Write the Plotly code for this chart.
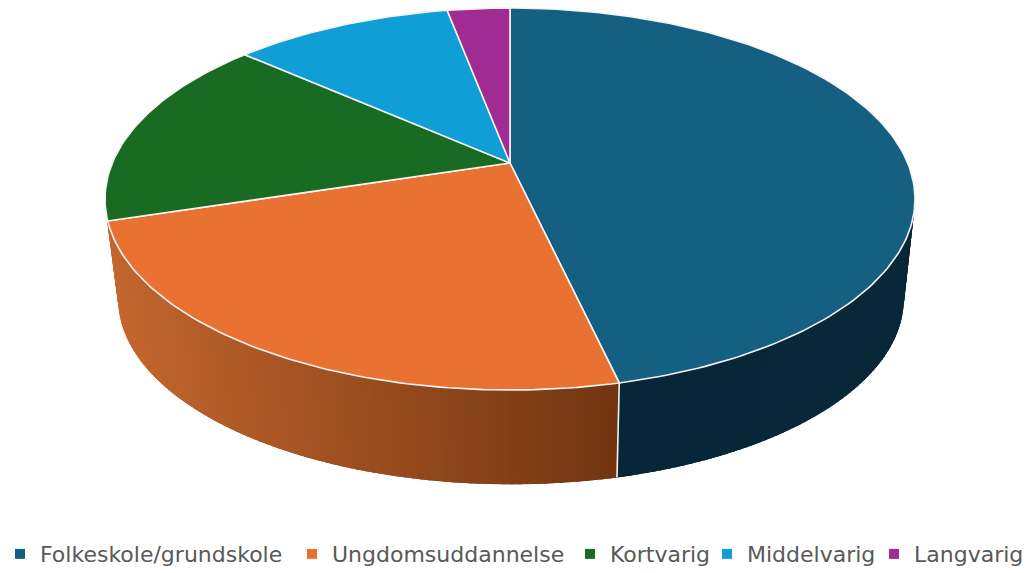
import math
import plotly.graph_objects as go

categories = ["Folkeskole/grundskole", "Ungdomsuddannelse", "Kortvarig", "Middelvarig", "Langvarig"]
values = [46.4, 23.8, 16.3, 10.5, 3.0]
colors = ["#156082", "#E97132", "#196B24", "#0F9ED5", "#A02B93"]
wall_from = ["#072637", "#C4662E"]
wall_to = ["#082839", "#713510"]

# Perspective view of the pie
CX, APEX_Y, R, C, B = 510.0, 163.0, 397.7, 0.1885, -153.5
ELL_Y, DEPTH_SCALE, DEPTH_Y, DEPTH_X = 199.0, 0.97, 100.0, 1.0
WALL_START, WALL_END = 92.0, 268.0  # the wall runs on behind the top face up to its tangents
LEGEND_LEFT = [0, 292, 570, 707, 874]  # left edge of each legend entry, in pixels


def top(theta):
    t = math.radians(theta)
    X, Y = math.sin(t), math.cos(t)
    w = 1 + C * Y
    return CX + R * X / w, (APEX_Y + B * Y) / w


def bottom(theta):
    x, y = top(theta)
    return CX + (x - CX) * DEPTH_SCALE + DEPTH_X, ELL_Y + (y - ELL_Y) * DEPTH_SCALE + DEPTH_Y


def mix(c1, c2, f):
    a = [int(c1[i:i + 2], 16) for i in (1, 3, 5)]
    b = [int(c2[i:i + 2], 16) for i in (1, 3, 5)]
    return "rgb(%d,%d,%d)" % tuple(round(p + (q - p) * f) for p, q in zip(a, b))


total = sum(values)
edges = [0.0]
for v in values:
    edges.append(edges[-1] + 360.0 * v / total)

fig = go.Figure()

# Outer wall: the two front slices, as shaded strips painted with a small overlap
for i in (0, 1):
    a0 = WALL_START if i == 0 else edges[1]
    a1 = edges[1] if i == 0 else WALL_END
    n = max(2, int((a1 - a0) / 1.0))
    order = range(n) if i == 0 else range(n - 1, -1, -1)
    for k in order:
        if i == 0:
            t0, t1 = a0 + (a1 - a0) * k / n, min(a1, a0 + (a1 - a0) * (k + 2.5) / n)
        else:
            t0, t1 = max(a0, a0 + (a1 - a0) * (k - 1.5) / n), a0 + (a1 - a0) * (k + 1) / n
        xm = top(a0 + (a1 - a0) * (k + 0.5) / n)[0]
        f = (107.0 - xm) / (107.0 - 620.0) if i == 1 else (xm - 620.0) / (911.0 - 620.0)
        col = mix(wall_from[i], wall_to[i], max(0, min(1, f)))
        pts = [top(t0), top(t1), bottom(t1), bottom(t0)]
        fig.add_trace(go.Scatter(
            x=[p[0] for p in pts], y=[p[1] for p in pts], mode="lines", fill="toself",
            fillcolor=col, line=dict(color=col, width=0), hoverinfo="skip", showlegend=False))

# White seam between the wall sections
p0, p1 = top(edges[1]), bottom(edges[1])
fig.add_trace(go.Scatter(x=[p0[0], p1[0]], y=[p0[1], p1[1]], mode="lines",
                         line=dict(color="#F2F2F2", width=1.6), hoverinfo="skip", showlegend=False))

# Top face slices
for i, (name, col) in enumerate(zip(categories, colors)):
    a0, a1 = edges[i], edges[i + 1]
    n = max(4, int(a1 - a0))
    arc = [top(a0 + (a1 - a0) * k / n) for k in range(n + 1)]
    pts = [(CX, APEX_Y)] + arc + [(CX, APEX_Y)]
    fig.add_trace(go.Scatter(
        x=[p[0] for p in pts], y=[p[1] for p in pts], mode="lines", fill="toself",
        fillcolor=col, line=dict(color="#F4F4F4", width=1.6), name=name,
        legendgroup=name, showlegend=False, hoverinfo="name"))

# Legend entries, one small legend each so that they sit at the reference spots
legend_layout = {}
for i, (name, col) in enumerate(zip(categories, colors)):
    key = "legend" if i == 0 else "legend%d" % (i + 1)
    fig.add_trace(go.Scatter(x=[None], y=[None], mode="markers", name=name, legendgroup=name,
                             legend=key, marker=dict(symbol="square", size=10, color=col),
                             showlegend=True))
    legend_layout[key] = dict(
        x=LEGEND_LEFT[i] / 1026, xanchor="left", y=0.033, yanchor="middle",
        xref="container", yref="container",
        font=dict(family="DejaVu Sans", size=22, color="#595959"),
        itemwidth=30, bgcolor="rgba(0,0,0,0)")

fig.update_layout(
    width=1026, height=573, autosize=False,
    margin=dict(l=0, r=0, t=0, b=0, autoexpand=False),
    paper_bgcolor="white", plot_bgcolor="white",
    xaxis=dict(visible=False, range=[0, 1026], fixedrange=True),
    yaxis=dict(visible=False, range=[573, 0], fixedrange=True),
    **legend_layout,
)
fig.write_html("out.html", config=dict(displayModeBar=False),
               post_script="document.body.style.margin='0';document.documentElement.style.overflow='hidden';")
